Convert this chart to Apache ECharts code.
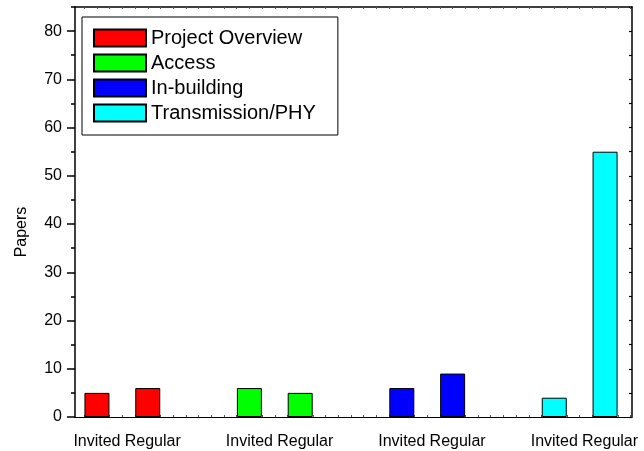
<!DOCTYPE html>
<html>
<head>
<meta charset="utf-8">
<script src="https://cdn.jsdelivr.net/npm/echarts@6/dist/echarts.min.js"></script>
<style>
  html, body { margin: 0; padding: 0; background: #fff; }
  #chart { width: 644px; height: 451px; }
</style>
</head>
<body>
<div id="chart"></div>
<script>
// Paper counts per topic, split into invited and regular submissions
const groups = ['Project Overview', 'Access', 'In-building', 'Transmission/PHY'];
const kinds = ['Invited', 'Regular'];
const invited = [5, 6, 6, 4];
const regular = [6, 5, 9, 55];
const colors = ['#ff0000', '#00ff00', '#0000ff', '#00ffff'];
const yTicks = [0, 10, 20, 30, 40, 50, 60, 70, 80];

const FONT = '"Liberation Sans", Arial, Helvetica, sans-serif';

// Each topic takes three slots on the x axis: invited, regular, then a gap.
const slotNames = {};
const series = groups.map((g, i) => {
  const xi = 3 * i + 1;
  slotNames[xi] = kinds[0];
  slotNames[xi + 1] = kinds[1];
  return {
    name: g,
    type: 'bar',
    barWidth: 25,
    barGap: '-100%',
    itemStyle: { color: colors[i], borderColor: '#000', borderWidth: 1 },
    data: [[xi, invited[i]], [xi + 1, regular[i]]]
  };
});
const labelSlots = Object.keys(slotNames).map(Number);

const X_MIN = 0.568, X_MAX = 11.53, Y_MAX = 85;
const quarterTicks = [];
for (let v = 0.75; v <= 11.5; v += 0.25) quarterTicks.push(v);
const minorY = [];
for (let v = 5; v <= 85; v += 10) minorY.push(v);
const fiveY = [];
for (let v = 0; v <= 85; v += 5) fiveY.push(v);

const lineStyle = { color: '#000', width: 1.5 };

const option = {
  animation: false,
  backgroundColor: '#fff',
  textStyle: { fontFamily: FONT },
  grid: { left: 75, right: 12, top: 7, bottom: 34, containLabel: false },
  legend: {
    left: 82, top: 17,
    orient: 'vertical',
    icon: 'rect',
    itemWidth: 52, itemHeight: 17, itemGap: 5,
    padding: [11, 22, 12, 11],
    borderColor: '#000', borderWidth: 1,
    textStyle: { fontSize: 20, lineHeight: 20, color: '#000', fontFamily: FONT },
    data: groups
  },
  xAxis: [
    {
      type: 'value', position: 'bottom', min: X_MIN, max: X_MAX,
      axisLine: { show: true, onZero: false, lineStyle: { color: '#000', width: 1.2 } },
      axisTick: { show: true, inside: true, length: 2, customValues: quarterTicks, lineStyle: { color: '#555' } },
      axisLabel: {
        show: true, margin: 17, customValues: labelSlots,
        formatter: v => {
          const n = slotNames[Math.round(v)] || '';
          return n === 'Regular' ? '{reg|' + n + '}' : '{inv|' + n + '}';
        },
        rich: {
          inv: { fontSize: 16, color: '#000', fontFamily: FONT },
          reg: { fontSize: 16, color: '#000', fontFamily: FONT, padding: [0, 0, 0, 10] }
        }
      },
      splitLine: { show: false }
    },
    {
      type: 'value', position: 'top', min: X_MIN, max: X_MAX,
      axisLine: { show: true, onZero: false, lineStyle },
      axisTick: { show: true, inside: true, length: 2, customValues: quarterTicks, lineStyle: { color: '#555' } },
      axisLabel: { show: false },
      splitLine: { show: false }
    }
  ],
  yAxis: [
    {
      type: 'value', position: 'left', min: 0, max: Y_MAX,
      name: 'Papers', nameLocation: 'middle', nameGap: 45, nameRotate: 90,
      nameTextStyle: { fontSize: 16, color: '#000', fontFamily: FONT, padding: [0, 40, 0, 0] },
      axisLine: { show: true, onZero: false, lineStyle },
      axisTick: { show: true, inside: false, length: 8, customValues: yTicks, lineStyle: { color: '#000', width: 1.5 } },
      axisLabel: { show: true, margin: 13, fontSize: 16, color: '#000', fontFamily: FONT, customValues: yTicks },
      splitLine: { show: false }
    },
    {
      type: 'value', position: 'left', min: 0, max: Y_MAX,
      axisLine: { show: false },
      axisTick: { show: true, inside: false, length: 4, customValues: minorY, lineStyle: { color: '#000', width: 1.5 } },
      axisLabel: { show: false },
      splitLine: { show: false }
    },
    {
      type: 'value', position: 'right', min: 0, max: Y_MAX,
      axisLine: { show: true, onZero: false, lineStyle },
      axisTick: { show: true, inside: true, length: 3, customValues: fiveY, lineStyle: { color: '#000', width: 1.2 } },
      axisLabel: { show: false },
      splitLine: { show: false }
    }
  ],
  series: series
};

const chart = echarts.init(document.getElementById('chart'), null, { renderer: 'canvas' });
chart.setOption(option);
</script>
</body>
</html>
